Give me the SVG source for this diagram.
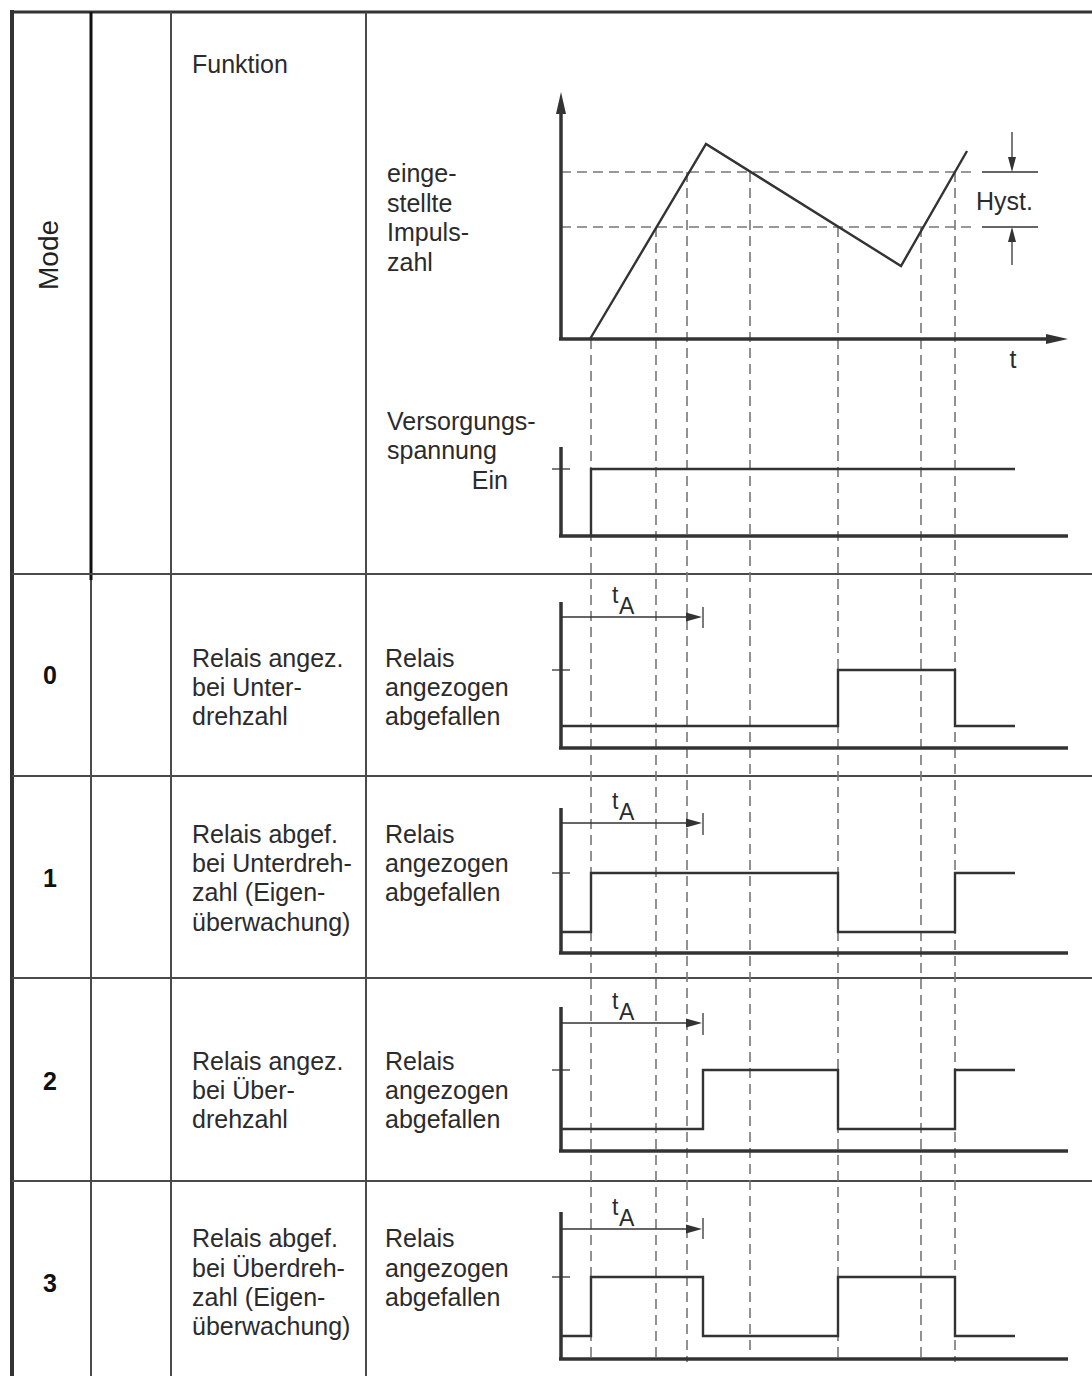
<svg xmlns="http://www.w3.org/2000/svg" width="1092" height="1376" viewBox="0 0 1092 1376">
<style>
text{font-family:"Liberation Sans",Arial,sans-serif;fill:#2b2b2b}
.t{font-size:25px}
.num{font-size:25px;font-weight:bold;fill:#111}
.grid{stroke:#4a4a4a;stroke-width:2;fill:none}
.dash{stroke:#777;stroke-width:1.6;stroke-dasharray:10 6;fill:none}
.axis{stroke:#333;stroke-width:3.5;fill:none}
.sig{stroke:#333;stroke-width:2.4;fill:none}
.thin{stroke:#333;stroke-width:1.3;fill:none}
.head{fill:#333;stroke:none}
.sub{font-size:23px}
</style>
<rect width="1092" height="1376" fill="#fff"/>

<g id="table">
  <line x1="12" y1="12" x2="1092" y2="12" stroke="#333" stroke-width="3"/>
  <line x1="12" y1="10" x2="12" y2="1376" stroke="#333" stroke-width="4"/>
  <line x1="91" y1="12" x2="91" y2="580" stroke="#111" stroke-width="3"/>
  <line class="grid" x1="91" y1="580" x2="91" y2="1376"/>
  <line class="grid" x1="171" y1="12" x2="171" y2="1376"/>
  <line class="grid" x1="366" y1="12" x2="366" y2="1376"/>
  <line class="grid" x1="12" y1="574" x2="1092" y2="574"/>
  <line class="grid" x1="12" y1="776" x2="1092" y2="776"/>
  <line class="grid" x1="12" y1="978" x2="1092" y2="978"/>
  <line class="grid" x1="12" y1="1181" x2="1092" y2="1181"/>
</g>

<g id="header">
  <text transform="translate(58,255) rotate(-90)" text-anchor="middle" style="font-size:28px;fill:#222">Mode</text>
  <text class="t" x="192" y="73">Funktion</text>
  <text class="t" x="387" y="182">einge-</text>
  <text class="t" x="387" y="211.5">stellte</text>
  <text class="t" x="387" y="241">Impuls-</text>
  <text class="t" x="387" y="270.5">zahl</text>
  <text class="t" x="387" y="430">Versorgungs-</text>
  <text class="t" x="387" y="459">spannung</text>
  <text class="t" x="508" y="489" text-anchor="end">Ein</text>
</g>

<g id="connectors">
  <line class="dash" x1="561" y1="172" x2="976" y2="172"/>
  <line class="dash" x1="561" y1="227" x2="976" y2="227"/>
  <line class="dash" x1="591" y1="339" x2="591" y2="1362"/>
  <line class="dash" x1="656" y1="227" x2="656" y2="1362"/>
  <line class="dash" x1="687" y1="172" x2="687" y2="1362"/>
  <line class="dash" x1="750" y1="172" x2="750" y2="1356"/>
  <line class="dash" x1="838" y1="227" x2="838" y2="1362"/>
  <line class="dash" x1="921" y1="227" x2="921" y2="1362"/>
  <line class="dash" x1="955" y1="172" x2="955" y2="1362"/>
</g>

<g id="graph-impulse">
  <line class="axis" x1="561" y1="339" x2="561" y2="110"/>
  <polygon class="head" points="561,92 556,114 566,114"/>
  <line class="axis" x1="559" y1="339" x2="1050" y2="339"/>
  <polygon class="head" points="1068,339 1046,334 1046,344"/>
  <text class="t" x="1013" y="368" text-anchor="middle">t</text>
  <polyline class="sig" points="590,339 706,144 901,266 967,151"/>
  <line class="thin" x1="982" y1="172" x2="1038" y2="172"/>
  <line class="thin" x1="982" y1="227" x2="1038" y2="227"/>
  <line class="thin" x1="1012" y1="132" x2="1012" y2="160"/>
  <polygon class="head" points="1012,172 1008,157 1016,157"/>
  <line class="thin" x1="1012" y1="265" x2="1012" y2="239"/>
  <polygon class="head" points="1012,227 1008,242 1016,242"/>
  <text class="t" x="976" y="210">Hyst.</text>
</g>

<g id="graph-supply">
  <line class="axis" x1="561" y1="447" x2="561" y2="536"/>
  <line class="thin" x1="552" y1="469" x2="570" y2="469"/>
  <line class="axis" x1="559" y1="536" x2="1068" y2="536"/>
  <polyline class="sig" points="591,536 591,469 1015,469"/>
</g>

<g id="row0">
  <text class="num" x="50" y="684" text-anchor="middle">0</text>
  <text class="t" x="192" y="667">Relais angez.</text>
  <text class="t" x="192" y="696">bei Unter-</text>
  <text class="t" x="192" y="725">drehzahl</text>
  <text class="t" x="385" y="667">Relais</text>
  <text class="t" x="385" y="696">angezogen</text>
  <text class="t" x="385" y="725">abgefallen</text>
  <text class="sub" x="612" y="603">t</text><text class="sub" x="619" y="614">A</text>
  <line class="thin" x1="561" y1="617" x2="690" y2="617"/>
  <polygon class="head" points="702,617 686,612.5 686,621.5"/>
  <line class="thin" x1="703" y1="607" x2="703" y2="628"/>
  <line class="axis" x1="561" y1="602" x2="561" y2="748"/>
  <line class="thin" x1="552" y1="670" x2="570" y2="670"/>
  <line class="axis" x1="559" y1="748" x2="1068" y2="748"/>
  <path class="sig" d="M561 726 H838 V670 H955 V726 H1015"/>
</g>

<g id="row1">
  <text class="num" x="50" y="887" text-anchor="middle">1</text>
  <text class="t" x="192" y="843">Relais abgef.</text>
  <text class="t" x="192" y="872">bei Unterdreh-</text>
  <text class="t" x="192" y="901">zahl (Eigen-</text>
  <text class="t" x="192" y="931">überwachung)</text>
  <text class="t" x="385" y="843">Relais</text>
  <text class="t" x="385" y="872">angezogen</text>
  <text class="t" x="385" y="901">abgefallen</text>
  <text class="sub" x="612" y="809">t</text><text class="sub" x="619" y="820">A</text>
  <line class="thin" x1="561" y1="823" x2="690" y2="823"/>
  <polygon class="head" points="702,823 686,818.5 686,827.5"/>
  <line class="thin" x1="703" y1="813" x2="703" y2="835"/>
  <line class="axis" x1="561" y1="808" x2="561" y2="953"/>
  <line class="thin" x1="552" y1="873" x2="570" y2="873"/>
  <line class="axis" x1="559" y1="953" x2="1068" y2="953"/>
  <path class="sig" d="M561 932 H591 V873 H838 V932 H955 V873 H1015"/>
</g>

<g id="row2">
  <text class="num" x="50" y="1090" text-anchor="middle">2</text>
  <text class="t" x="192" y="1070">Relais angez.</text>
  <text class="t" x="192" y="1099">bei Über-</text>
  <text class="t" x="192" y="1128">drehzahl</text>
  <text class="t" x="385" y="1070">Relais</text>
  <text class="t" x="385" y="1099">angezogen</text>
  <text class="t" x="385" y="1128">abgefallen</text>
  <text class="sub" x="612" y="1009">t</text><text class="sub" x="619" y="1020">A</text>
  <line class="thin" x1="561" y1="1023" x2="690" y2="1023"/>
  <polygon class="head" points="702,1023 686,1018.5 686,1027.5"/>
  <line class="thin" x1="703" y1="1013" x2="703" y2="1035"/>
  <line class="axis" x1="561" y1="1007" x2="561" y2="1151"/>
  <line class="thin" x1="552" y1="1070" x2="570" y2="1070"/>
  <line class="axis" x1="559" y1="1151" x2="1068" y2="1151"/>
  <path class="sig" d="M561 1129 H703 V1070 H838 V1129 H955 V1070 H1015"/>
</g>

<g id="row3">
  <text class="num" x="50" y="1292" text-anchor="middle">3</text>
  <text class="t" x="192" y="1247">Relais abgef.</text>
  <text class="t" x="192" y="1277">bei Überdreh-</text>
  <text class="t" x="192" y="1306">zahl (Eigen-</text>
  <text class="t" x="192" y="1335">überwachung)</text>
  <text class="t" x="385" y="1247">Relais</text>
  <text class="t" x="385" y="1277">angezogen</text>
  <text class="t" x="385" y="1306">abgefallen</text>
  <text class="sub" x="612" y="1215">t</text><text class="sub" x="619" y="1226">A</text>
  <line class="thin" x1="561" y1="1229" x2="690" y2="1229"/>
  <polygon class="head" points="702,1229 686,1224.5 686,1233.5"/>
  <line class="thin" x1="703" y1="1218" x2="703" y2="1239"/>
  <line class="axis" x1="561" y1="1212" x2="561" y2="1359"/>
  <line class="thin" x1="552" y1="1277" x2="570" y2="1277"/>
  <line class="axis" x1="559" y1="1359" x2="1068" y2="1359"/>
  <path class="sig" d="M561 1336 H591 V1277 H703 V1336 H838 V1277 H955 V1336 H1015"/>
</g>
</svg>
